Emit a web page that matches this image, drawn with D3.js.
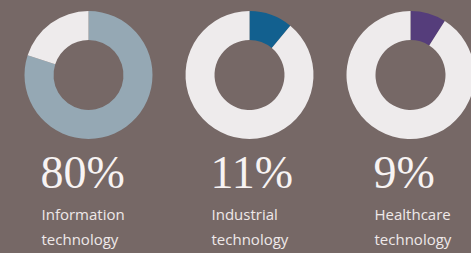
<!DOCTYPE html>
<html>
<head>
<meta charset="utf-8">
<script src="https://cdn.jsdelivr.net/npm/d3@7"></script>
<style>
  html, body { margin: 0; padding: 0; background: #766866; }
  svg { display: block; }
</style>
</head>
<body>
<svg id="chart" width="471" height="253"></svg>
<script>
// chart data
var categories = ["Information technology", "Industrial technology", "Healthcare technology"];
var labelLines = [["Information", "technology"], ["Industrial", "technology"], ["Healthcare", "technology"]];
var shares = [80, 11, 9];
var shareColors = ["#95a8b4", "#12608f", "#553d7b"];
var restColor = "#eeebec";

var OUTER_R = 64, INNER_R = 35;
var CENTER_Y = 75;
var TEXT_SHIFT = [-47, -38, -36]; // left edge of text relative to ring centre

var svg = d3.select("#chart");

var x = d3.scaleBand().domain(categories).range([8, 491]).padding(0);

var pie = d3.pie().sort(null).value(function(d) {
	return d;
});

var arc = d3.arc().innerRadius(INNER_R).outerRadius(OUTER_R);

var groups = svg.selectAll("g.donut").data(categories).enter().append("g") //
.attr("class", "donut") //
.attr("transform", function(d) {
	return "translate(" + (x(d) + x.bandwidth() / 2) + ",0)";
});

// donut rings
groups.each(function(d, i) {

	var g = d3.select(this).append("g") //
	.attr("transform", "translate(0," + CENTER_Y + ")");

	g.selectAll("path").data(pie([ shares[i], 100 - shares[i] ])).enter().append("path") //
	.attr("d", arc) //
	.attr("fill", function(p, j) {
		return j === 0 ? shareColors[i] : restColor;
	});

});

// text blocks
groups.each(function(d, i) {

	var block = d3.select(this).append("g") //
	.attr("transform", "translate(" + TEXT_SHIFT[i] + ",0)");

	block.append("text") //
	.attr("x", -1) //
	.attr("y", 188) //
	.attr("fill", "#f7f3f3") //
	.attr("font-family", "'Liberation Serif', serif") //
	.attr("font-size", "46px") //
	.text(shares[i] + "%");

	labelLines[i].forEach(function(line, k) {
		block.append("text") //
		.attr("x", 0) //
		.attr("y", 220 + k * 25) //
		.attr("fill", "#efe9e9") //
		.attr("font-family", "'Open Sans', sans-serif") //
		.attr("font-size", "15px") //
		.text(line);
	});

});
</script>
</body>
</html>
